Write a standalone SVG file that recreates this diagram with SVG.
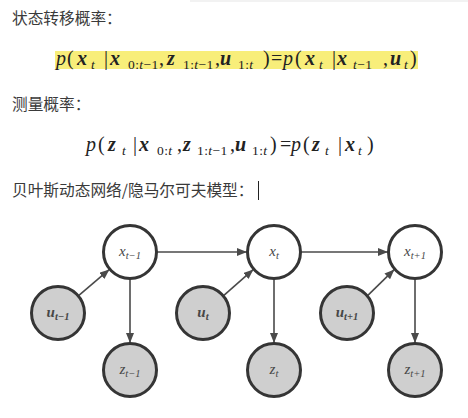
<svg xmlns="http://www.w3.org/2000/svg" width="468" height="418" viewBox="0 0 468 418">
<style>
.cn{font-family:"Noto Sans CJK SC","Noto Sans",sans-serif;font-size:15.7px;fill:#3a3a3a}
.m{font-family:"Liberation Serif",serif;font-size:20px;fill:#222}
.i{font-style:italic}
.b{font-style:italic;font-weight:bold}
.s{font-size:13.5px;letter-spacing:0.4px}
.node{stroke:#353535;stroke-width:3}
.open{fill:#fff}
.shade{fill:#cfcfcf}
.lbl{font-family:"Liberation Serif",serif;font-style:italic;font-size:15px;fill:#474747;text-anchor:middle}
.lb{font-weight:bold}
.sub{font-size:10.5px}
.edge{stroke:#4a4a4a;stroke-width:1.6;fill:none;marker-end:url(#ah)}
</style>
<defs>
<marker id="ah" viewBox="0 0 10 8" refX="10" refY="4" markerWidth="10" markerHeight="8" markerUnits="userSpaceOnUse" orient="auto">
<path d="M0,0 L10,4 L0,8 Z" fill="#4a4a4a"/>
</marker>
</defs>
<rect x="0" y="0" width="468" height="418" fill="#fff"/>
<rect x="190" y="0" width="278" height="2" fill="#f2f2f2"/>

<text class="cn" x="12" y="24">状态转移概率：</text>
<rect x="55" y="51" width="363" height="18" fill="#f8ee7a"/>
<text class="m" y="65">
<tspan class="i" x="56">p</tspan><tspan x="67">(</tspan><tspan class="b" x="77">x</tspan><tspan class="i s" x="91" dy="4">t</tspan><tspan x="104" dy="-4">|</tspan><tspan class="b" x="110">x</tspan><tspan class="s" x="128" dy="4">0:<tspan class="i">t</tspan>−1</tspan><tspan x="159" dy="-4">,</tspan><tspan class="b" x="167">z</tspan><tspan class="s" x="183" dy="4">1:<tspan class="i">t</tspan>−1</tspan><tspan x="215" dy="-4">,</tspan><tspan class="b" x="220">u</tspan><tspan class="s" x="238" dy="4">1:<tspan class="i">t</tspan></tspan><tspan x="263" dy="-4">)</tspan><tspan x="271">=</tspan><tspan class="i" x="283">p</tspan><tspan x="295">(</tspan><tspan class="b" x="305">x</tspan><tspan class="i s" x="319" dy="4">t</tspan><tspan x="332" dy="-4">|</tspan><tspan class="b" x="337">x</tspan><tspan class="s" x="353" dy="4"><tspan class="i">t</tspan>−1</tspan><tspan x="383" dy="-4">,</tspan><tspan class="b" x="390">u</tspan><tspan class="i s" x="404" dy="4">t</tspan><tspan x="410" dy="-4">)</tspan>
</text>

<text class="cn" x="12" y="110">测量概率：</text>
<text class="m" y="151">
<tspan class="i" x="86">p</tspan><tspan x="98">(</tspan><tspan class="b" x="108">z</tspan><tspan class="i s" x="122" dy="4">t</tspan><tspan x="133" dy="-4">|</tspan><tspan class="b" x="139">x</tspan><tspan class="s" x="157" dy="4">0:<tspan class="i">t</tspan></tspan><tspan x="177" dy="-4">,</tspan><tspan class="b" x="183">z</tspan><tspan class="s" x="197" dy="4">1:<tspan class="i">t</tspan>−1</tspan><tspan x="230" dy="-4">,</tspan><tspan class="b" x="235">u</tspan><tspan class="s" x="252" dy="4">1:<tspan class="i">t</tspan></tspan><tspan x="270" dy="-4">)</tspan><tspan x="280">=</tspan><tspan class="i" x="291">p</tspan><tspan x="303">(</tspan><tspan class="b" x="312">z</tspan><tspan class="i s" x="325" dy="4">t</tspan><tspan x="338" dy="-4">|</tspan><tspan class="b" x="345">x</tspan><tspan class="i s" x="358" dy="4">t</tspan><tspan x="367" dy="-4">)</tspan>
</text>

<text class="cn" x="12" y="196">贝叶斯动态网络/隐马尔可夫模型：</text>
<line x1="258.5" y1="181" x2="258.5" y2="200" stroke="#222" stroke-width="1"/>

<g id="connectors">
<line class="edge" x1="157" y1="252" x2="247" y2="252"/>
<line class="edge" x1="301" y1="252" x2="388" y2="252"/>
<line class="edge" x1="78.6" y1="295.6" x2="109.4" y2="269.4"/>
<line class="edge" x1="223.6" y1="295.6" x2="253.4" y2="269.4"/>
<line class="edge" x1="367.6" y1="295.6" x2="394.4" y2="269.4"/>
<line class="edge" x1="130" y1="279" x2="130" y2="343"/>
<line class="edge" x1="274" y1="279" x2="274" y2="343"/>
<line class="edge" x1="415" y1="279" x2="415" y2="343"/>
</g>

<g id="x_tm1"><circle class="node open" cx="130" cy="252" r="26.5"/><text class="lbl" x="130" y="256">x<tspan class="sub" dy="3">t−1</tspan></text></g>
<g id="x_t"><circle class="node open" cx="274" cy="252" r="26.5"/><text class="lbl" x="274" y="256">x<tspan class="sub" dy="3">t</tspan></text></g>
<g id="x_tp1"><circle class="node open" cx="415" cy="252" r="26.5"/><text class="lbl" x="415" y="256">x<tspan class="sub" dy="3">t+1</tspan></text></g>

<g id="u_tm1"><circle class="node shade" cx="58" cy="313" r="26.5"/><text class="lbl lb" x="58" y="317">u<tspan class="sub" dy="3">t−1</tspan></text></g>
<g id="u_t"><circle class="node shade" cx="203" cy="313" r="26.5"/><text class="lbl lb" x="203" y="317">u<tspan class="sub" dy="3">t</tspan></text></g>
<g id="u_tp1"><circle class="node shade" cx="347" cy="313" r="26.5"/><text class="lbl lb" x="347" y="317">u<tspan class="sub" dy="3">t+1</tspan></text></g>

<g id="z_tm1"><circle class="node shade" cx="130" cy="370" r="26.5"/><text class="lbl" x="130" y="374">z<tspan class="sub" dy="3">t−1</tspan></text></g>
<g id="z_t"><circle class="node shade" cx="274" cy="370" r="26.5"/><text class="lbl" x="274" y="374">z<tspan class="sub" dy="3">t</tspan></text></g>
<g id="z_tp1"><circle class="node shade" cx="415" cy="370" r="26.5"/><text class="lbl" x="415" y="374">z<tspan class="sub" dy="3">t+1</tspan></text></g>
</svg>
